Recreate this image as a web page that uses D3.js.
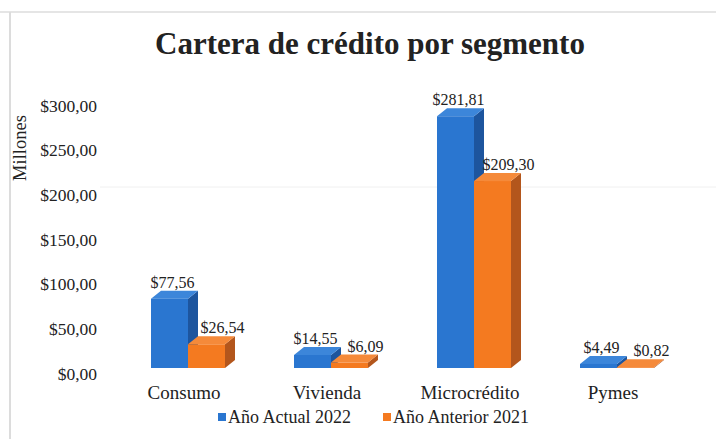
<!DOCTYPE html>
<html>
<head>
<meta charset="utf-8">
<script src="https://cdn.jsdelivr.net/npm/d3@7"></script>
<style>
  html, body { margin: 0; padding: 0; background: #fff; }
  svg { display: block; }
  svg text { font-family: "Liberation Serif", "Times New Roman", serif; }
</style>
</head>
<body>
<svg id="chart" width="716" height="439"></svg>
<script>
const title = "Cartera de crédito por segmento";
const categories = ["Consumo", "Vivienda", "Microcrédito", "Pymes"];
const seriesNames = ["Año Actual 2022", "Año Anterior 2021"];
const actual2022 = [77.56, 14.55, 281.81, 4.49];
const anterior2021 = [26.54, 6.09, 209.30, 0.82];
const yTicks = [0, 50, 100, 150, 200, 250, 300];
const yLabel = "Millones";

const seriesValues = [actual2022, anterior2021];
const colors = [
  { front: "#2a76d0", side: "#1d559e", top: "#3c86da" },
  { front: "#f47a20", side: "#b3561c", top: "#f58a3a" }
];

const svg = d3.select("#chart");
const W = 716, H = 439;

const loc = d3.formatLocale({ decimal: ",", thousands: ".", grouping: [3], currency: ["$", ""] });
const fmt = loc.format("$.2f");

// frame lines (scan edges)
svg.append("line").attr("x1", 10).attr("x2", 10).attr("y1", 12).attr("y2", H)
  .attr("stroke", "#d0d0d0").attr("stroke-width", 1.5);
svg.append("line").attr("x1", 0).attr("x2", W).attr("y1", 12).attr("y2", 12)
  .attr("stroke", "#dcdcdc").attr("stroke-width", 1.5);
svg.append("line").attr("x1", 100).attr("x2", W).attr("y1", 187).attr("y2", 187)
  .attr("stroke", "#f0f0f0").attr("stroke-width", 1);

// title
svg.append("text").attr("x", 370).attr("y", 54).attr("text-anchor", "middle")
  .attr("font-size", 31).attr("font-weight", "bold").attr("fill", "#222").text(title);

const y = d3.scaleLinear().domain([0, 300]).range([373, 105]);
const x0 = d3.scaleBand().domain(categories).range([116.5, 688.5]);
const barW = 37;
const depthX = 10, depthY = 8, frontShift = 5;

// y axis labels
const yAxis = d3.axisLeft(y).tickValues(yTicks).tickFormat(fmt).tickSize(0).tickPadding(0);
const gY = svg.append("g").attr("transform", "translate(97,0)").call(yAxis);
gY.attr("font-family", null);
gY.select(".domain").remove();
gY.selectAll("text").attr("font-size", 17.5).attr("fill", "#222").attr("dy", "0.35em");

svg.append("text").attr("transform", "translate(26,148) rotate(-90)")
  .attr("text-anchor", "middle").attr("font-size", 18.5).attr("fill", "#222").text(yLabel);

// bars
const barsG = svg.append("g");
categories.forEach((cat, ci) => {
  const cx = x0(cat) + x0.bandwidth() / 2;
  const x1 = d3.scaleBand().domain(seriesNames).range([cx - barW, cx + barW]);
  seriesNames.forEach((sn, si) => {
    const v = seriesValues[si][ci];
    const xl = x1(sn), xr = xl + x1.bandwidth();
    const yb = y(0) - frontShift, yt = y(v) - frontShift;
    const c = colors[si];
    const g = barsG.append("g");
    g.append("polygon").attr("points", [
      [xr, yt], [xr + depthX, yt - depthY], [xr + depthX, yb - depthY], [xr, yb]
    ].map(p => p.join(",")).join(" ")).attr("fill", c.side);
    g.append("polygon").attr("points", [
      [xl, yt], [xl + depthX, yt - depthY], [xr + depthX, yt - depthY], [xr, yt]
    ].map(p => p.join(",")).join(" ")).attr("fill", c.top);
    g.append("rect").attr("x", xl).attr("y", yt).attr("width", xr - xl).attr("height", yb - yt)
      .attr("fill", c.front);
  });
});

// value labels
const labelOffsets = [3, 16];
categories.forEach((cat, ci) => {
  const cx = x0(cat) + x0.bandwidth() / 2;
  const x1 = d3.scaleBand().domain(seriesNames).range([cx - barW, cx + barW]);
  seriesNames.forEach((sn, si) => {
    const v = seriesValues[si][ci];
    const xm = x1(sn) + x1.bandwidth() / 2 + labelOffsets[si];
    const yt = y(v) - frontShift;
    svg.append("text").attr("x", xm).attr("y", yt - 11).attr("text-anchor", "middle")
      .attr("font-size", 16).attr("fill", "#222").text(fmt(v));
  });
});

// category labels
categories.forEach(cat => {
  const cx = x0(cat) + x0.bandwidth() / 2 - 4;
  svg.append("text").attr("x", cx).attr("y", 399).attr("text-anchor", "middle")
    .attr("font-size", 19).attr("fill", "#222").text(cat);
});

// legend
const legendX = [218, 383];
seriesNames.forEach((sn, si) => {
  svg.append("rect").attr("x", legendX[si]).attr("y", 413).attr("width", 8).attr("height", 8)
    .attr("fill", colors[si].front);
  svg.append("text").attr("x", legendX[si] + 10).attr("y", 423).attr("font-size", 18)
    .attr("fill", "#222").text(sn);
});
</script>
</body>
</html>
